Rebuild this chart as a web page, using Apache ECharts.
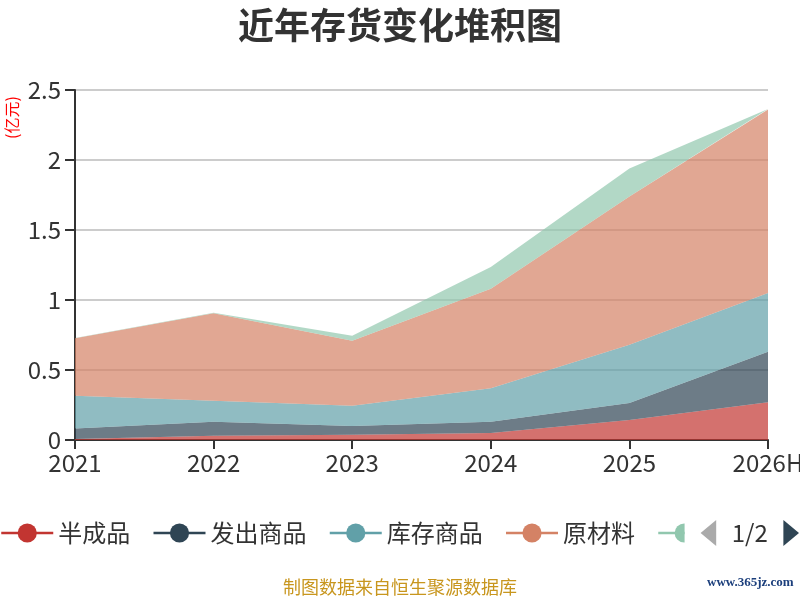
<!DOCTYPE html>
<html>
<head>
<meta charset="utf-8">
<script src="https://cdn.jsdelivr.net/npm/echarts@6/dist/echarts.min.js"></script>
<style>
  html, body { margin: 0; padding: 0; background: #fff; }
  #chart { width: 800px; height: 600px; }
</style>
</head>
<body>
<div id="chart"></div>
<script>
var years = ["2021", "2022", "2023", "2024", "2025", "2026H"];
var names = ["半成品", "发出商品", "库存商品", "原材料", "在产品", "周转材料"];
var banChengPin = [0.007, 0.031, 0.038, 0.05, 0.143, 0.27];
var faChuShangPin = [0.076, 0.10, 0.062, 0.08, 0.121, 0.36];
var kuCunShangPin = [0.233, 0.15, 0.145, 0.24, 0.416, 0.42];
var yuanCaiLiao = [0.41, 0.624, 0.464, 0.71, 1.06, 1.31];
var zaiChanPin = [0.003, 0.004, 0.036, 0.155, 0.2, 0.005];
var zhouZhuanCaiLiao = [0, 0, 0, 0, 0, 0];
var seriesData = [banChengPin, faChuShangPin, kuCunShangPin, yuanCaiLiao, zaiChanPin, zhouZhuanCaiLiao];
var yTicks = [0, 0.5, 1, 1.5, 2, 2.5];

var COLORS = ["#c23531", "#2f4554", "#61a0a8", "#d48265", "#91c7ae", "#749f83"];
var FONT = "'Noto Sans CJK SC','Noto Sans',sans-serif";

var chart = echarts.init(document.getElementById("chart"));

chart.setOption({
  animation: false,
  color: COLORS,
  textStyle: { fontFamily: FONT },
  title: {
    text: "近年存货变化堆积图", left: "center", top: 2,
    textStyle: { fontSize: 36, fontWeight: "bold", color: "#333", fontFamily: FONT }
  },
  legend: {
    type: "scroll", left: 0, right: 0, top: 515, padding: [5, 1, 5, 0],
    itemWidth: 52, itemHeight: 24, itemGap: 22, pageButtonGap: 16,
    textStyle: { fontSize: 24, color: "#333", fontFamily: FONT },
    lineStyle: { width: 2.5 },
    pageIconSize: [16, 26], pageIconColor: "#2f4554", pageIconInactiveColor: "#aaa",
    pageTextStyle: { fontSize: 24, color: "#333", fontFamily: FONT },
    data: names
  },
  grid: { left: 75, right: 32, top: 90, bottom: 160, containLabel: false, outerBoundsMode: "none" },
  xAxis: {
    type: "category", data: years, boundaryGap: false,
    axisLine: { lineStyle: { color: "#333", width: 2 } },
    axisTick: { show: true, alignWithLabel: true, length: 9, lineStyle: { color: "#333", width: 2 } },
    axisLabel: { fontSize: 24, color: "#333", margin: 11, fontFamily: FONT, showMinLabel: true, showMaxLabel: true },
    splitLine: { show: false }
  },
  yAxis: {
    type: "value", min: 0, max: 2.5, interval: 0.5,
    axisLine: { show: true, lineStyle: { color: "#333", width: 2 } },
    axisTick: { show: true, length: 10, lineStyle: { color: "#333", width: 2 } },
    axisLabel: {
      fontSize: 24, color: "#333", margin: 14, fontFamily: FONT,
      formatter: function(v) { return yTicks.indexOf(v) >= 0 ? String(v) : ""; }
    },
    splitLine: { show: true, lineStyle: { color: "#ccc", width: 2 } }
  },
  graphic: [
    { type: "text", x: 4, y: 139, rotation: Math.PI / 2,
      style: { text: "(亿元)", fill: "#ff0000", fontSize: 16, fontFamily: FONT } },
    { type: "text", left: "center", top: 578,
      style: { text: "制图数据来自恒生聚源数据库", fill: "#c8961e", fontSize: 18, fontFamily: FONT } },
    { type: "text", x: 707, y: 576,
      style: { text: "www.365jz.com", fill: "#1c3f7c", fontSize: 13, fontWeight: "bold", fontFamily: "'Liberation Serif','DejaVu Serif',serif" } }
  ],
  series: names.map(function(n, i) {
    return {
      name: n, type: "line", stack: "total", data: seriesData[i],
      symbol: "circle", symbolSize: 22, showSymbol: false,
      lineStyle: { width: 0 },
      areaStyle: { opacity: 0.7 },
      itemStyle: { color: COLORS[i] },
      emphasis: { disabled: true }
    };
  })
});
</script>
</body>
</html>
